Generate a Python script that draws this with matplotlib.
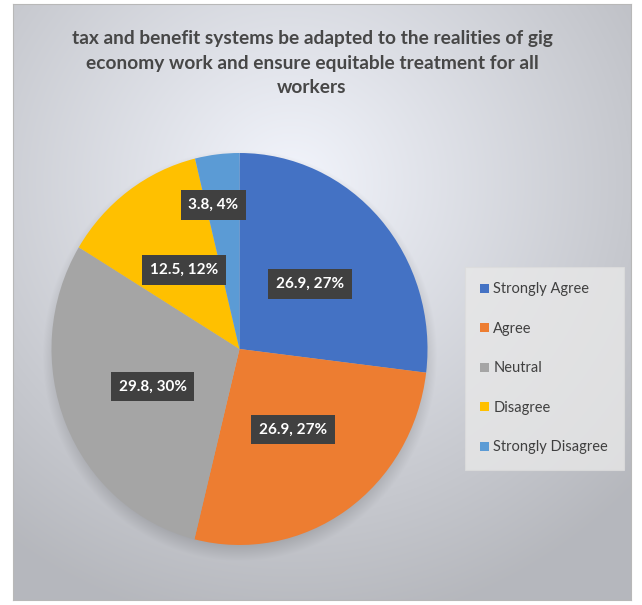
import numpy as np
import matplotlib
matplotlib.use("Agg")
from matplotlib import pyplot as plt
from matplotlib.patches import Patch

# survey answers
categories = ["Strongly Agree", "Agree", "Neutral", "Disagree", "Strongly Disagree"]
values = [26.9, 26.9, 29.8, 12.5, 3.8]
percents = [27, 27, 30, 12, 4]
colors = ["#4472C4", "#ED7D31", "#A5A5A5", "#FFC000", "#5B9BD5"]
title = ("tax and benefit systems be adapted to the realities of gig\n"
         "economy work and ensure equitable treatment for all\nworkers")

W, H = 642, 605
fig = plt.figure(figsize=(W / 100, H / 100), dpi=100)
fig.patch.set_facecolor("white")

# pie geometry in pixels (slightly taller than wide)
pcx, pcy, prx, pry = 239.5, 349, 188, 196

# chart area with a radial grey gradient and the pie's soft shadow
x0, y0, x1, y1 = 13, 4, 631, 600
bg = fig.add_axes([x0 / W, 1 - y1 / H, (x1 - x0) / W, (y1 - y0) / H])
bw, bh = x1 - x0, y1 - y0
yy, xx = np.mgrid[0:bh, 0:bw]
r = np.hypot((xx - bw * 0.45) / bw, (yy - bh * 0.3) / bh)
shade = 0.96 - 0.24 * np.clip(r / 0.75, 0, 1)
d = np.hypot((xx - (pcx - x0)) / prx, (yy - (pcy + 6 - y0)) / pry)
shadow = np.clip((1.05 - d) / 0.1, 0, 1)
shade = shade * (1 - 0.17 * shadow)
img = np.dstack([shade * 0.99, shade, shade * 1.03])
bg.imshow(np.clip(img, 0, 1), aspect="auto", extent=(0, 1, 0, 1), interpolation="bilinear")
bg.set_xticks([])
bg.set_yticks([])
for s in bg.spines.values():
    s.set_color("#b8b8b8")
    s.set_linewidth(0.8)

fig.text(312 / W, 1 - 63 / H, title, ha="center", va="center", fontsize=13.8,
         fontweight="bold", color="#474747", family="Lato", linespacing=1.55)

# pie
ax = fig.add_axes([(pcx - prx) / W, 1 - (pcy + pry) / H, 2 * prx / W, 2 * pry / H])
wedges, _ = ax.pie(values, colors=colors, startangle=90, counterclock=False,
                   radius=1, wedgeprops=dict(linewidth=0))
ax.set_xlim(-1, 1)
ax.set_ylim(-1, 1)
ax.set_aspect("auto")
ax.axis("off")

label_dist = [0.5, 0.5, 0.5, 0.5, 0.74]
for w, v, p, ld in zip(wedges, values, percents, label_dist):
    ang = np.deg2rad((w.theta1 + w.theta2) / 2)
    lx, ly = ld * np.cos(ang), ld * np.sin(ang)
    if w is wedges[4]:
        lx -= 0.05
    ax.text(lx, ly, f"{v}, {p}%", ha="center", va="center", fontsize=11,
            fontweight="bold", color="white", family="Lato",
            bbox=dict(boxstyle="square,pad=0.5", fc="#404040", ec="none"))

handles = [Patch(facecolor=c, edgecolor="none") for c in colors]
leg = fig.legend(handles, categories, loc="upper left",
                 bbox_to_anchor=(465 / W, 1 - 267 / H), frameon=True,
                 fancybox=False, handlelength=0.6, handleheight=0.6,
                 handletextpad=0.3, labelspacing=1.75, borderpad=1.05,
                 borderaxespad=0, prop={"family": "Lato", "size": 10.5})
leg.get_frame().set_facecolor("#e8e8e8")
leg.get_frame().set_edgecolor("#dcdcdc")
leg.get_frame().set_linewidth(0.8)
for t in leg.get_texts():
    t.set_color("#404040")

fig.savefig("out.png", dpi=100)
